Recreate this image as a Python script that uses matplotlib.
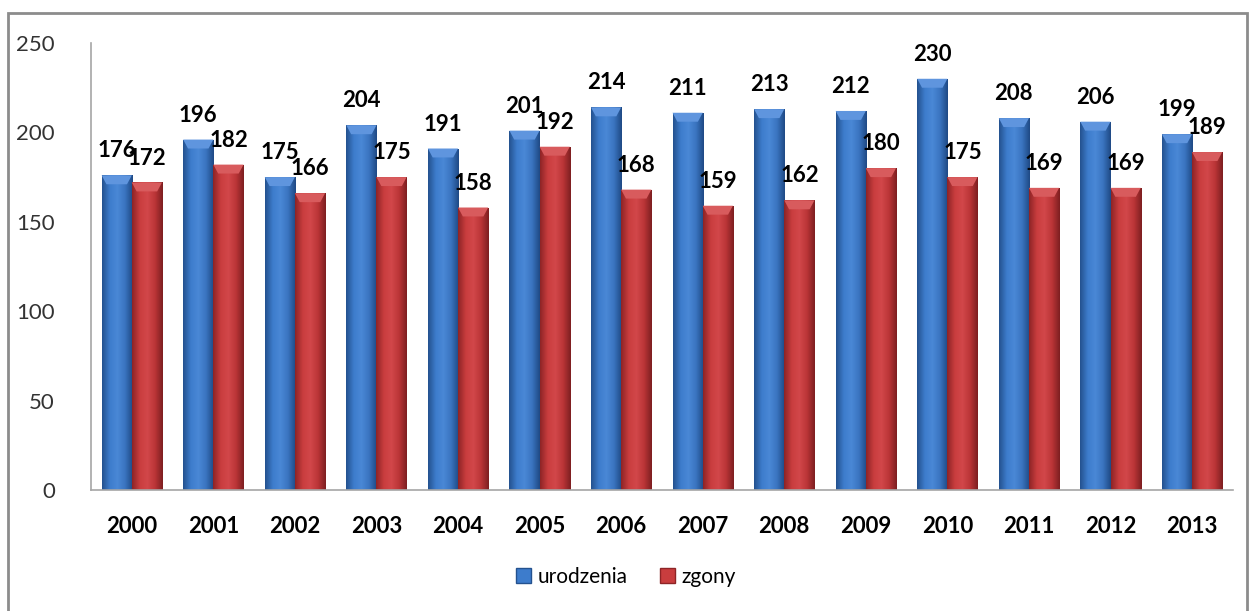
import numpy as np
import matplotlib
matplotlib.use("Agg")
import matplotlib.pyplot as plt
from matplotlib.patches import Rectangle
from matplotlib.colors import LinearSegmentedColormap

years = ["2000", "2001", "2002", "2003", "2004", "2005", "2006",
         "2007", "2008", "2009", "2010", "2011", "2012", "2013"]
urodzenia = [176, 196, 175, 204, 191, 201, 214, 211, 213, 212, 230, 208, 206, 199]
zgony = [172, 182, 166, 175, 158, 192, 168, 159, 162, 180, 175, 169, 169, 189]

plt.rcParams['font.family'] = ['Lato', 'DejaVu Sans']

fig = plt.figure(figsize=(12.52, 6.11), dpi=100)
ax = fig.add_axes([0.0727, 0.198, 0.912, 0.7316])

x = np.arange(len(years))
w = 0.37

blue_cm = LinearSegmentedColormap.from_list(
    "b", ["#24528f", "#3d7ccc", "#4a88d6", "#3a74c0", "#1f4a85"])
red_cm = LinearSegmentedColormap.from_list(
    "r", ["#8e2426", "#c93d3e", "#d2474a", "#bb3537", "#7e1f21"])

grad = np.linspace(0, 1, 64).reshape(1, -1)


def shaded(bars, cmap, top_col):
    for b in bars:
        x0, y0 = b.get_x(), b.get_y()
        bw, bh = b.get_width(), b.get_height()
        im = ax.imshow(grad, cmap=cmap, aspect="auto",
                       extent=[x0, x0 + bw, y0, y0 + bh], zorder=2)
        im.set_clip_path(b)
        # bevel on top
        cap = 5
        ax.fill([x0, x0 + bw, x0 + bw * 0.84, x0 + bw * 0.16],
                [y0 + bh, y0 + bh, y0 + bh - cap, y0 + bh - cap],
                color=top_col, zorder=3, lw=0)


b1 = ax.bar(x - w / 2, urodzenia, w, color="none", zorder=2)
b2 = ax.bar(x + w / 2, zgony, w, color="none", zorder=2)
shaded(b1, blue_cm, "#5f95de")
shaded(b2, red_cm, "#d85b5d")

for xi, v in zip(x - w / 2, urodzenia):
    ax.annotate(str(v), (xi, v), xytext=(0, 10), textcoords="offset points",
                ha="center", va="bottom", fontsize=16, fontweight="bold")
for xi, v in zip(x + w / 2, zgony):
    ax.annotate(str(v), (xi, v), xytext=(0, 10), textcoords="offset points",
                ha="center", va="bottom", fontsize=16, fontweight="bold")

ax.set_xlim(-0.5, len(years) - 0.5)
ax.set_ylim(0, 250)
ax.set_yticks(range(0, 251, 50))
ax.set_xticks(x)
ax.set_xticklabels(years, fontweight="bold", fontsize=16)
ax.tick_params(axis="x", length=0, pad=19)
ax.tick_params(axis="y", length=0, pad=26, labelsize=16, labelcolor="#333333")
for s in ["top", "right"]:
    ax.spines[s].set_visible(False)
for s in ["left", "bottom"]:
    ax.spines[s].set_color("#a6a6a6")
    ax.spines[s].set_linewidth(1.2)

handles = [Rectangle((0, 0), 1, 1, fc="#3d7ccc", ec="#24528f"),
           Rectangle((0, 0), 1, 1, fc="#c93d3e", ec="#8e2426")]
fig.legend(handles, ["urodzenia", "zgony"], loc="center",
           bbox_to_anchor=(0.5, 1 - 577 / 611), ncol=2, frameon=False,
           fontsize=15, handlelength=0.7, handleheight=0.7,
           handletextpad=0.3, columnspacing=1.6)

fig.patches.append(Rectangle((8 / 1252, -0.01), (1247 - 8) / 1252, 1 - 13 / 611 + 0.01,
                             transform=fig.transFigure, fill=False,
                             ec="#8c8c8c", lw=2))

fig.savefig("out.png", dpi=100)
